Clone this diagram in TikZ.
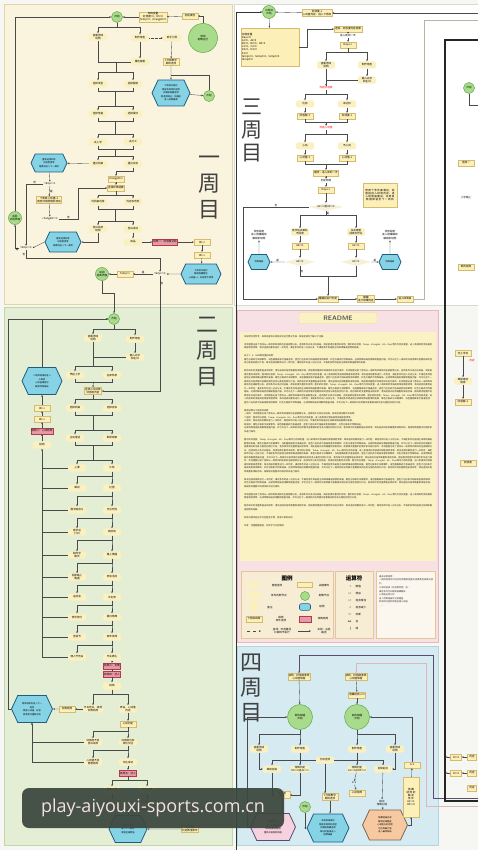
\documentclass[tikz,border=0pt]{standalone}
\usepackage{fontspec}
\setmainfont{Noto Sans CJK SC}
\newfontfamily\wmfont{Open Sans}
\usetikzlibrary{arrows.meta,shapes.geometric,shapes.symbols,calc}
\XeTeXlinebreaklocale "zh"
\XeTeXlinebreakskip=0pt plus 1pt

\definecolor{bgc}{HTML}{F6F6F3}
\definecolor{ponefill}{HTML}{FAF4DF}
\definecolor{poneline}{HTML}{E0D6A6}
\definecolor{ptwofill}{HTML}{E4EED5}
\definecolor{ptwoline}{HTML}{C5D6AE}
\definecolor{evfill}{HTML}{FBF0C0}
\definecolor{vbfill}{HTML}{FCEFB8}
\definecolor{vbline}{HTML}{D3BC70}
\definecolor{gcfill}{HTML}{A9DB8C}
\definecolor{gcline}{HTML}{5FA845}
\definecolor{hxfill}{HTML}{86D3E6}
\definecolor{hxline}{HTML}{1F5C82}
\definecolor{rbfill}{HTML}{E79AA5}
\definecolor{rbline}{HTML}{B7374C}
\definecolor{dmfill}{HTML}{F6F0D6}
\definecolor{lncol}{HTML}{4A4A4A}
\definecolor{rdfill}{HTML}{F8E1E4}
\definecolor{rdline}{HTML}{E9B6BE}
\definecolor{rdtext}{HTML}{FBF2C4}
\definecolor{lgfill}{HTML}{F7ECD4}
\definecolor{lgline}{HTML}{E2C898}
\definecolor{pfourfill}{HTML}{D5EBF1}
\definecolor{pfourline}{HTML}{B2D6E0}
\definecolor{pkhex}{HTML}{F6D2E0}
\definecolor{orhex}{HTML}{F7C9A0}
\definecolor{purp}{HTML}{5B4B6E}
\definecolor{frgray}{HTML}{B9B4A6}
\definecolor{wmfill}{HTML}{3B473D}
\definecolor{wmtext}{HTML}{F3E1E0}

\newcommand{\tn}{\fontsize{2.6}{3.1}\selectfont}
\newcommand{\tnn}{\fontsize{2.2}{3.5}\selectfont}

% one node down to two nodes
\newcommand{\splitto}[3]{%
  \draw[ln,->] (#1.south) -- ++(0,4) -| (#2.north);
  \draw[ln,->] (#1.south) -- ++(0,4) -| (#3.north);}
% two nodes joined, then down to the next two
\newcommand{\pairlink}[4]{%
  \draw[ln] (#1.south) -- ++(0,3) -| (#2.south);
  \coordinate (pl-m) at ($(#1.south)!.5!(#2.south)+(0,3)$);
  \coordinate (pl-s) at ($(#3.north)!.5!(#4.north)+(0,-4)$);
  \draw[ln] (pl-m) |- (pl-s);
  \draw[ln,->] (pl-s) -| (#3.north);
  \draw[ln,->] (pl-s) -| (#4.north);}

% readme sentences
\newcommand{\rmA}{本流程图记录了游戏从一周目到四周目的全部剧情分支、选项条件以及对应结局，阅读前请先看完本说明。}
\newcommand{\rmB}{图中的好感度、Temp、changeH、Hh、Days等均为存档变量，进入新周目时会按规则保留或者清零。}
\newcommand{\rmC}{每次选择后都会进行一次判定，满足条件时进入对应分支，不满足条件则返回主线继续推进剧情的发展。}
\newcommand{\rmD}{黄色方框表示关键事件，浅色圆角框表示普通选项，蓝色六边形表示结局或者周目跳转，红色方框表示特殊结局。}
\newcommand{\rmE}{达成特殊结局后将解锁图鉴内容，并可以在下一周目的开始界面中查看相关的信息与角色的回忆片段。}
\newcommand{\rmF}{若存档中的变量数值出现异常，请先返回开始界面重新读取存档，再按照流程图中的顺序依次进行操作。}

\begin{document}
\begin{tikzpicture}[x=1pt,y=-1pt,
    >={Stealth[length=2pt,width=1.7pt]},
    ln/.style={draw=lncol,line width=0.35pt},
    frln/.style={draw=frgray,line width=0.7pt},
    ev/.style={rounded corners=1.5pt,fill=evfill,inner sep=0.8pt,font=\tn,align=center,minimum width=18,minimum height=7},
    vb/.style={fill=vbfill,draw=vbline,line width=0.3pt,inner sep=0.8pt,font=\tn,align=center,minimum width=16,minimum height=6},
    rb/.style={fill=rbfill,draw=rbline,line width=0.4pt,inner sep=0.8pt,font=\tn,align=center,minimum height=6},
    gc/.style={circle,fill=gcfill,draw=gcline,line width=0.5pt,font=\tn,align=center,minimum size=11,inner sep=0pt},
    hx/.style={signal,signal to=east and west,signal pointer angle=130,fill=hxfill,draw=hxline,line width=0.8pt,font=\tnn,align=center,inner sep=1pt},
    dm/.style={diamond,aspect=4,fill=dmfill,inner sep=0.3pt,font=\tn,minimum width=30,minimum height=8},
    txt/.style={font=\tn,inner sep=0.8pt,align=center},
    lb/.style={font=\tn,inner sep=0.5pt},
    ttl/.style={font=\fontsize{22}{26}\selectfont,text=black!75,align=center,inner sep=0pt}]

\useasboundingbox (0,0) rectangle (478,850);
\fill[bgc] (0,0) rectangle (478,850);

% panels
\draw[fill=ponefill,draw=poneline,line width=0.6pt] (4,4) rectangle (232,304);
\draw[fill=ptwofill,draw=ptwoline,line width=0.6pt] (4,307) rectangle (232,845);
\draw[fill=white,draw=black!15,line width=0.4pt] (234,4) rectangle (478,305);
\draw[fill=rdfill,draw=rdline,line width=0.8pt] (237,310) rectangle (438,642);
\draw[fill=pfourfill,draw=pfourline,line width=0.8pt] (237,646) rectangle (438,845);

% ---------- first round
\node[ttl] (ttla) at (209,188) {一\\周\\目};
\node[gc] (st1) at (117,17) {开始};
\node[vb] (var1) at (153,17) {存档变量\\好感度=0，Hh=0\\Temp=0，changeH=0};
\node[vb] (ini1) at (190,16) {初始属性};
\node[gc,minimum size=29] (run1) at (203,38) {游戏\\剧情运行};
\draw[ln,->] (run1.north) |- (ini1.east);
\draw[ln,->] (ini1) -- (var1);
\draw[ln,->] (var1) -- (st1);

\node[ev] (see1) at (98,37) {查看游戏\\说明};
\node[ev] (mk1) at (140,38) {制作角色};
\node[ev] (gd1) at (172,38) {新手引导};
\node[ev] (pan1) at (140,62) {属性面板};
\node[vb] (jmp1) at (171,62) {1分钟教学\\跳转选项};
\node[hx,minimum width=38,minimum height=26] (hxa) at (171,93) {下周目开始时\\保留本周目好感度\\并解锁隐藏选项\\若选择跳过，则直接\\进入结算画面};
\node[gc] (st1b) at (209,96) {开始};
\splitto{st1}{see1}{mk1}
\draw[ln,->,densely dotted] (mk1) -- (gd1);
\draw[ln,->] (mk1) -- (pan1);
\draw[ln,->] (gd1) -- (jmp1);
\draw[ln,->] (jmp1) -- (hxa);
\draw[ln,->] (hxa) -- (st1b);
\draw[ln] (st1b.north) |- ([yshift=4pt]hxa.north);

\node[ev] (ra1) at (98,84) {选择发型};
\node[ev] (rb1) at (133,84) {选择服装};
\node[ev] (ra2) at (98,114) {选择性格};
\node[ev] (rb2) at (133,114) {选择爱好};
\node[ev] (ra3) at (98,142) {去上学};
\node[ev] (rb3) at (133,142) {去打工};
\node[ev] (ra4) at (98,164) {遇见同桌};
\node[ev] (rb4) at (133,164) {遇见店长};
\draw[ln] (see1.south) |- (pan1.west);
\coordinate (jn1) at (116,62);
\draw[ln,->] (jn1) -- ++(0,10) -| (ra1.north);
\draw[ln,->] (jn1) -- ++(0,10) -| (rb1.north);
\pairlink{ra1}{rb1}{ra2}{rb2}
\pairlink{ra2}{rb2}{ra3}{rb3}
\pairlink{ra3}{rb3}{ra4}{rb4}

\node[hx,minimum width=36,minimum height=18] (hxb) at (49,163) {重新选择形象\\好感度清零\\结算后进入下一周目};
\draw[ln,->] (ra4) -- (hxb);
\node[txt] (tp1) at (50,184) {Temp==1};
\draw[ln,->] (hxb) -- (tp1);
\node[vb] (ch1) at (49,200) {下周目心动值+1\\角色好感度随机增加};
\draw[ln,->] (tp1) -- node[lb,right]{是} (ch1);
\node[txt] (tp2) at (50,219) {changeH==3};
\draw[ln,->] (ch1) -- (tp2);
\node[vb] (chh) at (116,179) {changeH+1};
\node[vb] (chs) at (116,188) {选择形象结算};
\draw[ln,->] (rb4.south) -- ++(0,3) -| (chh.north);
\draw[ln,->] (chh) -- (chs);
\draw[ln,->] (tp2.east) -- node[lb,above]{否} ++(20,0) |- (chs.west);

\node[ev] (ra5) at (98,202) {约同桌出游};
\node[ev] (rb5) at (133,202) {约店长吃饭};
\node[ev] (ra6) at (98,229) {告白失败\\结局};
\node[ev] (rb6) at (133,229) {告白成功};
\splitto{chs}{ra5}{rb5}
\pairlink{ra5}{rb5}{ra6}{rb6}
\node[hx,minimum width=36,minimum height=20] (hxc) at (63,242) {重新选择形象\\好感度清零\\结算后进入下一周目};
\draw[ln,->] (ra6.south) |- (hxc.east);
\node[txt] (tp3) at (26,248) {Temp==3};
\draw[ln,->] (hxc.west) -- (tp3.east);
\draw[ln,->] (tp1.west) -| node[lb,near start,above]{否} (tp3.north);
\node[gc,minimum size=13] (bk1) at (15,218) {返回\\开始界面};
\draw[ln,->] (tp3.west) -| node[lb,near start,below]{是} (bk1.south);
\draw[ln,->] (bk1.north) |- (st1.west);

\node[ev] (fin1) at (133,242) {成品};
\node[rb] (end1) at (165,242) {结局一：好感度达标};
\node[vb] (hh1) at (202,242) {Hh++};
\node[vb] (hh2) at (202,255) {Hh++};
\node[hx,minimum width=40,minimum height=20] (hxd) at (201,274) {下周目开始时\\解锁隐藏角色\\心动值+1，好感度不清零};
\draw[ln,->] (rb6) -- (fin1);
\draw[ln,->] (fin1) -- (end1);
\draw[ln,->] (end1) -- (hh1);
\draw[ln,->] (hh1) -- (hh2);
\draw[ln,->] (hh2) -- (hxd);
\node[txt] (tp4) at (160,274) {Temp==2};
\node[vb] (tp5) at (125,274) {Temp=1};
\node[gc,minimum size=13] (bk2) at (102,274) {返回\\结束界面};
\draw[ln,->] (hxd) -- (tp4);
\draw[ln,->] (tp4) -- node[lb,above]{是} (tp5);
\draw[ln,->] (tp5) -- (bk2);
\draw[ln,->] (tp3.south) -- node[lb,left]{否} ++(0,8) -| (tp4.north);

% ---------- second round
\node[ttl] (ttlb) at (207,352) {二\\周\\目};
\node[gc] (st2) at (114,319) {开始};
\draw[ln,->] (bk2.south) -- ++(0,12) -| (st2.north);
\node[vb] (cs2) at (93,391) {选择心动对象\\好感度判定};
\draw[ln,->] (tp4.south) |- node[lb,pos=0.03,right]{否} (cs2.east);

\node[ev] (see2) at (93,338) {查看游戏\\说明};
\node[ev] (mk2) at (135,339) {制作角色};
\node[ev] (nm2) at (135,357) {输入名字\\和生日};
\splitto{st2}{see2}{mk2}
\draw[ln,->] (mk2) -- (nm2);
\draw[ln] (see2.south) |- (nm2.west);
\coordinate (jn2) at (see2.south |- nm2.west);
\node[ev] (pa1) at (75,375) {早起上学};
\node[ev] (pb1) at (112,375) {在家休息};
\draw[ln,->] (jn2) -- ++(0,9) -| (pa1.north);
\draw[ln,->] (jn2) -- ++(0,9) -| (pb1.north);
\draw[ln] (pa1.south) -- ++(0,3) -| (pb1.south);
\draw[ln,->] ($(pa1.south)!.5!(pb1.south)+(0,3)$) -- (cs2.north);
\node[ev] (pa2) at (75,408) {选择同桌};
\node[ev] (pb2) at (112,408) {选择店长};
\node[ev] (pa3) at (75,438) {主动搭话};
\node[ev] (pb3) at (112,438) {默默观察};
\splitto{cs2}{pa2}{pb2}
\pairlink{pa2}{pb2}{pa3}{pb3}

\foreach \i/\y/\ta/\tb in {1/468/上课/午休, 2/488/课间/社团, 3/510/图书馆自习/天台吃饭,
    4/532/放学后\\打扫/商店街, 5/555/和同学\\聊天/路上偶遇, 6/577/回家路上\\偶遇/参加活动,
    7/597/运动会/文化祭, 8/617/修学旅行/夏日祭典, 9/637/圣诞节/新年参拜, 10/657/情人节告白/毕业典礼}{
  \node[ev] (la\i) at (77,\y) {\ta};
  \node[ev] (lb\i) at (112,\y) {\tb};
}
\pairlink{pa3}{pb3}{la1}{lb1}
\foreach \i [count=\j from 2] in {1,...,9}{\splitto{lb\i}{la\j}{lb\j}}
\coordinate (lbot) at (42,657);
\foreach \i in {1,...,10}{\draw[ln] (la\i.west) -- (la\i.west -| lbot);}

\node[hx,minimum width=40,minimum height=27] (hxe) at (42,381) {二周目结束后进入\\三周目\\心动值满足时\\解锁特殊结局};
\node[vb] (hh3) at (42,408) {Hh++};
\node[vb] (hh4) at (42,419) {Hh++};
\node[rb] (end2) at (42,431) {结局二：心动结局};
\node[ev] (en2) at (42,445) {结局};
\draw[ln,->] (lbot) -- (en2.south);
\draw[ln,->] (en2) -- (end2);
\draw[ln,->] (end2) -- (hh4);
\draw[ln,->] (hh4) -- (hh3);
\draw[ln,->] (hh3) -- (hxe);
\draw[ln,->] (hxe.north) |- (st2.west);

\node[rb] (rd1) at (112,666) {结局三：友情};
\node[rb] (rd2) at (112,674) {结局四：恋人};
\node[ev] (en3) at (112,686) {结局};
\draw[ln,->] (lb10) -- (rd1);
\draw[ln] (rd1) -- (rd2);
\draw[ln,->] (rd2) -- (en3);
\node[ev] (ma) at (93,709) {不去告白，结局\\友情结局};
\node[ev] (mb) at (128,709) {表白，心动值\\判定};
\node[vb] (fx) at (67,709) {友情结局};
\node[hx,minimum width=41,minimum height=27] (hxf) at (32,709) {周目结束后进入下一\\周目\\保留心动值，好感\\度清零并重新开始};
\splitto{en3}{ma}{mb}
\draw[ln,->] (ma) -- (fx);
\draw[ln,->] (fx) -- (hxf);
\draw[ln,->] (hxf.west) -- ++(-3,0) |- (st2.west);
\node[vb] (mc) at (128,724) {心动判定};
\node[ev] (md) at (93,742) {好感度不足\\告白失败};
\node[ev] (me) at (128,742) {好感度达标\\成功交往};
\node[ev] (mf) at (93,762) {心动值不足\\普通结局};
\node[ev] (mg) at (128,762) {交往成功};
\node[rb] (rd3) at (128,773) {结局五：恋人};
\draw[ln,->] (mb) -- (mc);
\splitto{mc}{md}{me}
\splitto{me}{mf}{mg}
\draw[ln,->] (md.west) -| (hxf.south);
\draw[ln,->] (mf.west) -| (hxf.south);
\draw[ln,->] (mg) -- (rd3);
\node[ev] (mh) at (112,790) {甜蜜日常};
\node[ev] (mi) at (147,790) {约会日常};
\node[vb] (mj) at (112,803) {好感度+1};
\node[vb] (mk) at (147,803) {心动值+1};
\node[hx,minimum width=38,minimum height=27] (hxg) at (128,829) {周目结束后\\进入下一周目\\保留全部数值};
\node[vb] (mx) at (190,829) {心动值\\判定数值条件};
\splitto{rd3}{mh}{mi}
\draw[ln,->] (mh) -- (mj);
\draw[ln,->] (mi) -- (mk);
\draw[ln] (mj.south) -- ++(0,3) -| (mk.south);
\draw[ln,->] ($(mj.south)!.5!(mk.south)+(0,3)$) -- (hxg.north);
\draw[ln,->] (mx) -- (hxg);

% ---------- third round
\node[ttl,font=\fontsize{21}{23}\selectfont] (ttlc) at (252,130) {三\\周\\目};
\node[gc,minimum size=13] (st3) at (269,12) {三周目\\开始};
\node[vb] (bx3) at (317,13) {好感度-1\\心动值判定，进入下周目};
\coordinate (rt1) at (478,13);
\coordinate (lpb) at (236,850);
\draw[ln,->] (rt1) -- (bx3.east);
\draw[ln,->] (bx3) -- (st3);
\draw[->,line width=0.8pt,draw=black!80] (lpb) |- (st3.west);
\node[vb,align=left,text width=56,minimum height=38] (tb3) at (270,47) {存档变量\\Days=0\\A1=0，A2=0\\B1=0，B2=0，B3=0\\C1=0，C2=0\\D1=0，D2=0\\E1=0\\temp1=0，temp2=0，temp3=0\\temp4=0};
\draw[ln,->] (st3) -- (tb3);
\node[vb] (a1) at (348,29) {选择、好感度判定结果};
\node[txt] (a2) at (348,36) {进入新的一天};
\node[vb] (a3) at (348,45) {Days++};
\draw[ln,->] (tb3.east) -- ++(8,0) |- (a1.west);
\draw[ln,->] (a1) -- (a2);
\draw[ln,->] (a2) -- (a3);
\node[ev] (ca) at (326,65) {查看游戏\\说明};
\node[ev] (cb) at (367,65) {制作角色};
\node[ev] (cc) at (367,80) {输入名字\\和生日};
\node[txt,text=red] (jd1) at (326,88) {判定好感度};
\splitto{a3}{ca}{cb}
\draw[ln,->] (cb) -- (cc);
\draw[ln,->] (ca) -- (jd1);
\draw[ln] (cc.west) -| (jd1.north);
\node[ev] (da) at (305,104) {达标};
\node[ev] (db) at (347,104) {未达标};
\node[vb] (ea) at (305,116) {好感度+1};
\node[vb] (eb) at (347,116) {好感度-1};
\node[txt,text=red] (jd2) at (326,128) {判定心动值};
\splitto{jd1}{da}{db}
\draw[ln,->] (da) -- (ea);
\draw[ln,->] (db) -- (eb);
\draw[ln] (ea.south) -- ++(0,3) -| (eb.south);
\draw[ln,->] ($(ea.south)!.5!(eb.south)+(0,3)$) -- (jd2.north);
\node[ev] (fa) at (305,146) {心动};
\node[ev] (fb) at (347,146) {不心动};
\node[vb] (ga) at (305,158) {心动值+1};
\node[vb] (gb) at (347,158) {心动值-1};
\splitto{jd2}{fa}{fb}
\draw[ln,->] (fa) -- (ga);
\draw[ln,->] (fb) -- (gb);
\node[vb] (hb3) at (326,173) {睡觉，进入新的一天};
\node[txt] (hc3) at (326,181) {判定结局};
\node[vb] (hd3) at (326,190) {Days++};
\node[dm,minimum width=34] (dd3) at (326,207) {A1>=3且A2>=3};
\draw[ln] (ga.south) -- ++(0,3) -| (gb.south);
\draw[ln,->] ($(ga.south)!.5!(gb.south)+(0,3)$) -- (hb3.north);
\draw[ln,->] (hb3) -- (hc3);
\draw[ln,->] (hc3) -- (hd3);
\draw[ln,->] (hd3) -- (dd3);
\node[vb,text width=33,minimum height=24] (nt3) at (380,195) {若两个条件都满足，则直接进入结局判定，进入结局画面后，本周目数据保留至下一周目};

\node[ev] (ia) at (300,232) {放学后去某处\\不回家};
\node[ev] (ib) at (356,232) {没去哪里\\回家写作业};
\node[vb] (ja) at (300,246) {A2+=1};
\node[vb] (jb) at (356,246) {A1+=1};
\node[dm] (ka) at (300,262) {A2>=1};
\node[dm] (kb) at (356,262) {A1>=1};
\node[hx,minimum width=22,minimum height=15] (xa) at (259,262) {特殊结局};
\node[hx,minimum width=22,minimum height=15] (xb) at (390,262) {特殊结局};
\node[txt] (ya) at (259,235) {发现秘密\\进入隐藏路线\\解锁新结局};
\node[txt] (yb) at (390,235) {发现秘密\\进入隐藏路线\\解锁新结局};
\draw[ln,->] (dd3.south) -- node[lb,right]{是} ++(0,4) -| (ia.north);
\draw[ln,->] (dd3.south) -- ++(0,4) -| (ib.north);
\draw[ln,->] (ia) -- (ja);
\draw[ln,->] (ib) -- (jb);
\draw[ln,->] (ja) -- (ka);
\draw[ln,->] (jb) -- (kb);
\draw[ln,->] (ka) -- node[lb,above]{是} (xa);
\draw[ln,->] (kb) -- node[lb,above]{是} (xb);
\draw[ln,->] (xa) -- (ya);
\draw[ln,->] (xb) -- (yb);
\node[vb] (bt1) at (328,299) {睡醒后进行判定};
\node[vb] (bt2) at (366,299) {睡醒\\进行隐藏判定};
\node[vb] (bt3) at (405,299) {进入四周目};
\draw[ln] (ka.south) -- node[lb,right]{否} ++(0,10) -| (kb.south);
\draw[ln,->] ($(ka.south)!.5!(kb.south)+(0,10)$) -- (bt1.north);
\coordinate (lp3) at (243,207);
\draw[ln,->] (dd3.west) -- node[lb,above]{否} (lp3) |- (bt1.west);
\draw[ln,->] (bt1) -- (bt2);
\draw[ln,->] (bt2) -- (bt3);
\coordinate (fr2) at (424,20);
\coordinate (rt2) at (478,20);
\draw[frln] (bt3.east) -| (fr2) -- (rt2);

% ---------- readme
\node[rounded corners=2pt,fill=rdtext,draw=vbline!60,line width=0.3pt,minimum width=78,minimum height=10,
  font=\sffamily\bfseries\fontsize{6.5}{7}\selectfont,text=black!65] (rdt) at (338,318) {README};
\fill[rdtext] (240,332) rectangle (436,561);
\node[anchor=north west,text width=188,inner sep=0pt,font=\tnn,text=black!85] (rdb) at (244,335) {%
\setlength{\parskip}{4.6pt}%
本说明仅供参考，具体内容请以游戏实际运行情况为准，阅读前请先了解以下内容。\par
\rmA\rmB\rmC\par
关于T、F、HSB等变量的说明：\\\rmD\rmE\rmC\par
\rmF\rmA\rmB\rmC\rmD\rmE\rmF\rmA\rmB\rmC\rmD\rmE\rmF\rmA\rmB\rmC\rmD\rmE\par
周目结算与下周目的说明：\\一周目：\rmA\\二周目：\rmB\\三周目：\rmC\\四周目：\rmD\\\rmE\rmF\par
\rmB\rmC\rmD\rmE\rmF\rmA\rmB\rmC\rmD\rmE\rmF\rmA\rmB\rmC\rmD\rmE\rmF\par
\rmC\rmD\rmE\rmF\par
\rmA\rmB\rmE\par
\rmF\rmC\par
如有问题欢迎在评论区留言反馈，感谢大家的支持。\par
作者：流程图整理组，仅供学习交流使用。};

% legend
\draw[fill=lgfill,draw=lgline,line width=0.6pt] (241,571) rectangle (333,638);
\draw[fill=lgfill,draw=lgline,line width=0.6pt] (335,571) rectangle (373,638);
\draw[fill=white!60!lgfill,draw=lgline,line width=0.6pt] (376,571) rectangle (435,638);
\node[font=\bfseries\fontsize{5.5}{6}\selectfont] (lgt) at (287,578) {图例};
\node[ev,minimum width=15,minimum height=5] (lg1) at (254,585) {};
\node[lb] (lg1t) at (277,586) {普通选项};
\node[vb,minimum width=15,minimum height=5] (lg2) at (305,585) {};
\node[lb] (lg2t) at (324,586) {关键事件};
\node[ellipse,fill=evfill,minimum width=15,minimum height=5] (lg3) at (254,596) {};
\node[lb] (lg3t) at (279,596) {条件判断节点};
\node[gc,minimum size=9] (lg4) at (305,596) {};
\node[lb] (lg4t) at (324,596) {剧情节点};
\node[ellipse,fill=vbfill,minimum width=7,minimum height=5] (lg5) at (254,607) {};
\node[lb] (lg5t) at (270,607) {备注};
\node[rounded corners=2pt,fill=hxfill,draw=hxline,line width=0.6pt,minimum width=11,minimum height=6] (lg6) at (305,607) {};
\node[lb] (lg6t) at (322,607) {结局};
\node[vb] (lg7) at (254,619) {下周目跳转};
\node[lb,align=center] (lg7t) at (281,619) {跳转\\条件选项};
\node[rb,minimum width=12] (lg8) at (305,619) {};
\node[lb] (lg8t) at (323,619) {特殊结局};
\coordinate (lg9a) at (247,631);
\coordinate (lg9b) at (261,631);
\draw[ln,->,dashed] (lg9a) -- (lg9b);
\node[lb,align=center] (lg9t) at (282,631) {虚线：可选路径\\只跳转不执行};
\coordinate (lg10a) at (298,631);
\coordinate (lg10b) at (311,631);
\draw[ln,->] (lg10a) -- (lg10b);
\node[lb,align=center] (lg10t) at (324,631) {实线：必经\\路径};

\node[font=\bfseries\fontsize{5.5}{6}\selectfont] (opt) at (354,578) {运算符};
\foreach \y/\a/\b in {587/=/赋值, 594/++/增加, 601/+=/自身增加, 608/-=/自身减少, 615/==/判断, 622/\&\&/且, 629/||/或}{
  \node[lb,anchor=east] (op\y) at (352,\y) {\a};
  \node[lb,anchor=west] (od\y) at (355,\y) {\b};
}
\node[anchor=north west,text width=54,inner sep=0pt,font=\tnn,text=black!80] (lgn) at (379,575) {%
通关彩蛋说明：\\一周目结束后可在开始界面的图鉴中查看角色档案与回忆。\\[1pt]三周目选择（好感度判定）后：\\满足条件可以解锁隐藏路线\\心动值达到三时\\进入特殊结局并记录图鉴\\四周目开始时保留全部心动值\\……};

% ---------- fourth round
\node[ttl,font=\fontsize{22}{25}\selectfont] (ttld) at (251,688) {四\\周\\目};
\node[vb] (q1) at (299,677) {读档，好感度清零\\心动值保留};
\node[vb] (q2) at (356,677) {读档，好感度清零\\心动值保留};
\node[vb] (q3) at (357,695) {隐藏结局 n=0};
\node[gc,minimum size=25] (cq1) at (300,717) {新的相遇\\开始};
\node[gc,minimum size=25] (cq2) at (357,717) {旧的相遇\\开始};
\draw[ln,->] (q1) -- (cq1);
\draw[ln,->] (q2) -- (q3);
\draw[ln,->] (q3) -- (cq2);
\coordinate (pp) at (478,798);
\coordinate (pp1) at (433,655);
\draw[draw=purp,line width=0.7pt,->] (pp) -| (pp1) -| (q1.north);
\coordinate (gp) at (478,806);
\coordinate (gp1) at (426,663);
\draw[draw=rdline!80!frgray,line width=0.7pt,->] (gp) -| (gp1) -| (q2.north);

\node[ev] (u1) at (259,749) {查看游戏\\说明};
\node[ev] (u2) at (300,749) {制作角色};
\node[ev] (u3) at (357,749) {制作角色};
\node[ev] (u4) at (395,749) {查看游戏\\说明};
\splitto{cq1}{u1}{u2}
\splitto{cq2}{u3}{u4}
\node[ev] (k4) at (325,760) {分歧选项};
\node[ev] (v1) at (272,769) {继续前进};
\node[ev] (v2) at (300,769) {特殊判定\\Hh>=2且A1>=1};
\node[ev] (v3) at (357,769) {特殊判定\\A1>=1且Hh>=2};
\node[ev] (v4) at (383,769) {回到起点};
\draw[ln,->] (u2) -- (v2);
\draw[ln,->] (u3) -- (v3);
\draw[ln,->] (k4.west) -| (v1.north);
\draw[ln,->] (k4.east) -| (v4.north);
\draw[ln,->] (u1.south) |- (v1.west);
\draw[ln,->] (u4.south) |- (v4.east);
\node[txt] (n4a) at (354,783) {n=1};
\node[vb] (n4b) at (357,793) {心动结局};
\draw[ln,->] (v3) -- (n4a);
\draw[ln,->] (n4a) -- (n4b);
\node[vb] (w1) at (282,795) {好感度\\判定};
\node[vb] (w2) at (330,797) {1分钟教学\\跳转选项};
\node[gc] (cs4) at (305,807) {开始};
\node[hx,fill=pkhex,draw=purp,minimum width=45,minimum height=27] (hp) at (273,827) {好感度不足\\进入普通结局\\周目结束后返回\\重新开始新的相遇};
\node[hx,minimum width=42,minimum height=28] (hc4) at (328,828) {本周目结束时\\保留本周目好感度\\并解锁隐藏选项\\跳过后直接进入\\结算画面};
\node[txt] (p4) at (382,803) {跳过\\特殊对话};
\node[hx,fill=orhex,draw=orhex!50!black,minimum width=45,minimum height=30] (ho) at (385,825) {隐藏结局达成\\解锁全部图鉴\\心动值与好感度\\均达到最大值\\进入最终结局};
\node[vb,text width=14,minimum height=40] (tl4) at (411,797) {隐藏\\结局的\\触发\\条件\\A1>=1\\Hh>=2};
\node[vb] (np4) at (412,765) {n+1};
\draw[ln,->] (v1.south) |- (w1.west);
\draw[ln,->] (v2.south) |- (w1.east);
\draw[ln,->] (w1.south) -- (w1.south |- hp.north);
\draw[ln,->] (k4.south) -- (k4.south |- w2.north);
\draw[ln,->] (w2.south) -- (w2.south |- hc4.north);
\draw[ln,->] (cs4.south) |- (hc4.west);
\draw[ln,->] (v4) -- (p4);
\draw[ln,->] (p4) -- (ho);
\draw[ln,->] (ho.east) -| (tl4.south);
\draw[ln,->] (tl4) -- (np4);
\draw[ln,->] (np4.north) |- (cq2.east);
\draw[ln,->] (hp.west) -- ++(-3,0) |- (cq1.west);

% ---------- right frame
\draw[line width=1.2pt,draw=black!85] (445,40) rectangle (495,801);
\node[gc] (st5) at (469,88) {开始};
\coordinate (x5) at (480,105);
\draw[ln] (st5.south) |- (x5);
\node[vb] (r5a) at (466,163) {选择一};
\node[txt] (r5b) at (466,197) {上学路上};
\node[vb] (r5c) at (466,267) {新的结局};
\node[vb] (r5d) at (463,353) {无上学日};
\node[txt,text=red] (r5e) at (472,361) {判定};
\node[ev] (r5f) at (463,381) {继续等待\\回家};
\node[vb] (r5g) at (463,402) {好感度+1};
\node[vb] (r5h) at (468,463) {好感度};
\draw[ln,->] (r5d) -- (r5f);
\draw[ln,->] (r5f) -- (r5g);
\node[vb,minimum width=11] (r5i) at (456,757) {Ch=2};
\node[vb,minimum width=11] (r5j) at (456,773) {Ch=2};
\node[vb,minimum width=9] (r5m) at (472,757) {判定};
\node[vb,minimum width=9] (r5n) at (472,773) {判定};
\node[vb,minimum width=9] (r5o) at (472,788) {判定};
\draw[ln,->] (r5m) -- (r5i);
\draw[ln,->] (r5n) -- (r5j);
\draw[ln,->] (r5i.west) -- ++(-5,0);
\draw[ln,->] (r5j.west) -- ++(-5,0);

% watermark
\node[fill=wmfill,fill opacity=0.93,text opacity=1,rounded corners=7pt,minimum width=262,minimum height=40,
  text=wmtext,font=\wmfont\fontsize{18}{18}\selectfont] (wm) at (153,808) {play-aiyouxi-sports.com.cn};
\end{tikzpicture}
\end{document}
